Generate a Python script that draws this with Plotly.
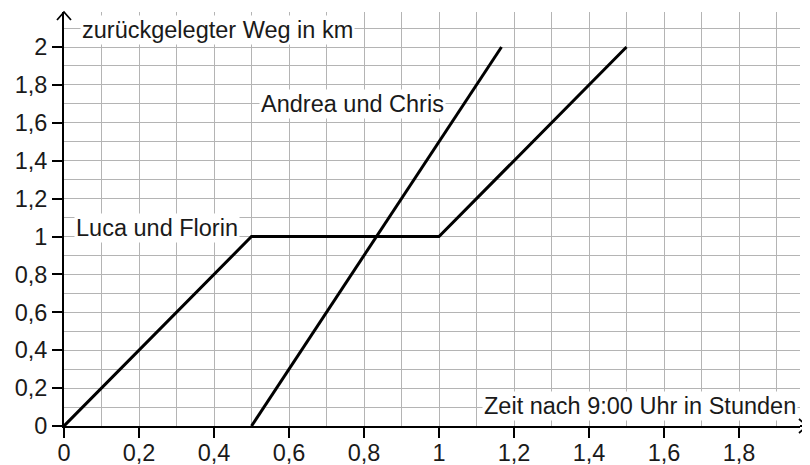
import plotly.graph_objects as go

# Data
luca_x = [0, 0.5, 1.0, 1.5]
luca_y = [0, 1.0, 1.0, 2.0]
andrea_x = [0.5, 7/6]
andrea_y = [0, 2.0]

x_label = "Zeit nach 9:00 Uhr in Stunden"
y_label = "zurückgelegter Weg in km"
luca_name = "Luca und Florin"
andrea_name = "Andrea und Chris"

# page has 8px body margin; figure sized so it fills the 810x465 window
W, H = 802, 457
ML, MR, MT, MB = 56, 10, 4, 39
XMAX = (W - MR - ML) / 375.0
YMAX = (H - MB - MT) / 189.5

FONT = "Liberation Sans"
FS = 23.5
TXT = "#1a1a1a"
GRID = "#b4b4b4"

fig = go.Figure()
fig.add_trace(go.Scatter(x=luca_x, y=luca_y, mode="lines",
                         line=dict(color="black", width=3), cliponaxis=False,
                         name=luca_name, showlegend=False, hoverinfo="skip"))
fig.add_trace(go.Scatter(x=andrea_x, y=andrea_y, mode="lines",
                         line=dict(color="black", width=3), cliponaxis=False,
                         name=andrea_name, showlegend=False, hoverinfo="skip"))

ann_common = dict(showarrow=False, bgcolor="white", borderpad=1,
                  font=dict(family=FONT, size=FS, color=TXT))
fig.add_annotation(x=0.41, y=2.09, text=y_label, **ann_common)
fig.add_annotation(x=1.536, y=0.105, text=x_label, **ann_common)
fig.add_annotation(x=0.768, y=1.70, text=andrea_name, **ann_common)
fig.add_annotation(x=0.247, y=1.045, text=luca_name, **ann_common)

# arrow heads (paper coords)
pw = W - ML - MR
ph = H - MT - MB
def px(dx):
    return dx / pw
def py(dy):
    return dy / ph
fig.add_shape(type="path", xref="paper", yref="paper",
              path=f"M {-px(7)} {1-py(8)} L 0 1 L {px(7)} {1-py(8)}",
              line=dict(color="black", width=1.8))
tip = 1 + px(7)
fig.add_shape(type="path", xref="paper", yref="paper",
              path=f"M {tip-px(8)} {py(7)} L {tip} 0 L {tip-px(8)} {-py(7)}",
              line=dict(color="black", width=1.8))
fig.add_shape(type="line", xref="paper", yref="paper", x0=1, x1=tip, y0=0, y1=0,
              line=dict(color="black", width=2))

axis_common = dict(dtick=0.2, tick0=0, showgrid=True,
                   gridcolor=GRID, gridwidth=1.3,
                   minor=dict(dtick=0.1, showgrid=True, gridcolor=GRID, gridwidth=1.3),
                   showline=True, linecolor="black", linewidth=2,
                   ticks="outside", ticklen=10, tickwidth=2, tickcolor="black",
                   tickfont=dict(family=FONT, size=FS, color=TXT),
                   zeroline=False, fixedrange=True, automargin=False)
fig.update_xaxes(range=[0, XMAX], ticklabelstandoff=-5, **axis_common)
fig.update_yaxes(range=[0, YMAX], **axis_common)

fig.update_layout(width=W, height=H, margin=dict(l=ML, r=MR, t=MT, b=MB, autoexpand=False),
                  plot_bgcolor="white", paper_bgcolor="white",
                  separators=",.", showlegend=False)

fig.write_html("out.html")
